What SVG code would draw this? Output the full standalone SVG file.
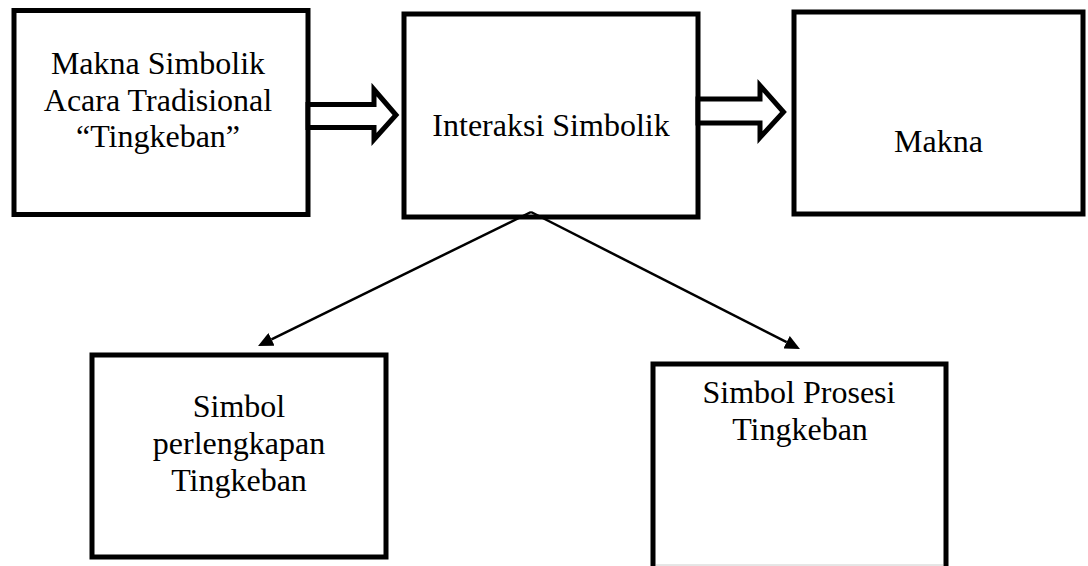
<svg xmlns="http://www.w3.org/2000/svg" width="1088" height="566" viewBox="0 0 1088 566">
  <style>
    .box { fill: #ffffff; stroke: #000000; stroke-width: 5; stroke-linejoin: miter; }
    .block { fill: #ffffff; stroke: #000000; stroke-width: 5; stroke-linejoin: miter; stroke-miterlimit: 10; }
    .conn { stroke: #000000; stroke-width: 2.5; fill: none; }
    .label { font-family: "Liberation Serif", "Times New Roman", serif; font-size: 32px; fill: #000000; text-anchor: middle; }
  </style>
  <defs>
    <marker id="tri" viewBox="0 0 15 14" refX="0" refY="7" markerWidth="15" markerHeight="14" markerUnits="userSpaceOnUse" orient="auto">
      <path d="M0,0 L15,7 L0,14 z" fill="#000000"/>
    </marker>
  </defs>
  <rect width="1088" height="566" fill="#ffffff"/>

  <g id="node-makna-simbolik">
    <rect class="box" x="14" y="10.5" width="294" height="204"/>
    <text class="label" x="158" y="74">Makna Simbolik</text>
    <text class="label" x="158" y="110.5">Acara Tradisional</text>
    <text class="label" x="158" y="147">“Tingkeban”</text>
  </g>

  <g id="node-interaksi">
    <rect class="box" x="404" y="14" width="294" height="203"/>
    <text class="label" x="551" y="136">Interaksi Simbolik</text>
  </g>

  <g id="node-makna">
    <rect class="box" x="794" y="12" width="289" height="202"/>
    <text class="label" x="938.5" y="152">Makna</text>
  </g>

  <g id="node-perlengkapan">
    <rect class="box" x="92" y="355" width="294" height="202"/>
    <text class="label" x="239" y="417">Simbol</text>
    <text class="label" x="239" y="454">perlengkapan</text>
    <text class="label" x="239" y="491">Tingkeban</text>
  </g>

  <g id="node-prosesi">
    <rect class="box" x="653" y="364" width="293" height="240"/>
    <line x1="656" y1="565" x2="943" y2="565" stroke="#cccccc" stroke-width="1"/>
    <text class="label" x="799" y="403">Simbol Prosesi</text>
    <text class="label" x="800" y="440">Tingkeban</text>
  </g>

  <g id="connectors">
    <polygon class="block" points="308,104.5 374,104.5 374,89.5 396,115 374,139.5 374,127.5 308,127.5"/>
    <polygon class="block" points="698,99 760,99 760,85.5 783.5,112 760,137.5 760,123 698,123"/>
    <line class="conn" x1="531" y1="212" x2="271.5" y2="339.4" marker-end="url(#tri)"/>
    <line class="conn" x1="531" y1="212" x2="786.6" y2="342.2" marker-end="url(#tri)"/>
  </g>
</svg>
